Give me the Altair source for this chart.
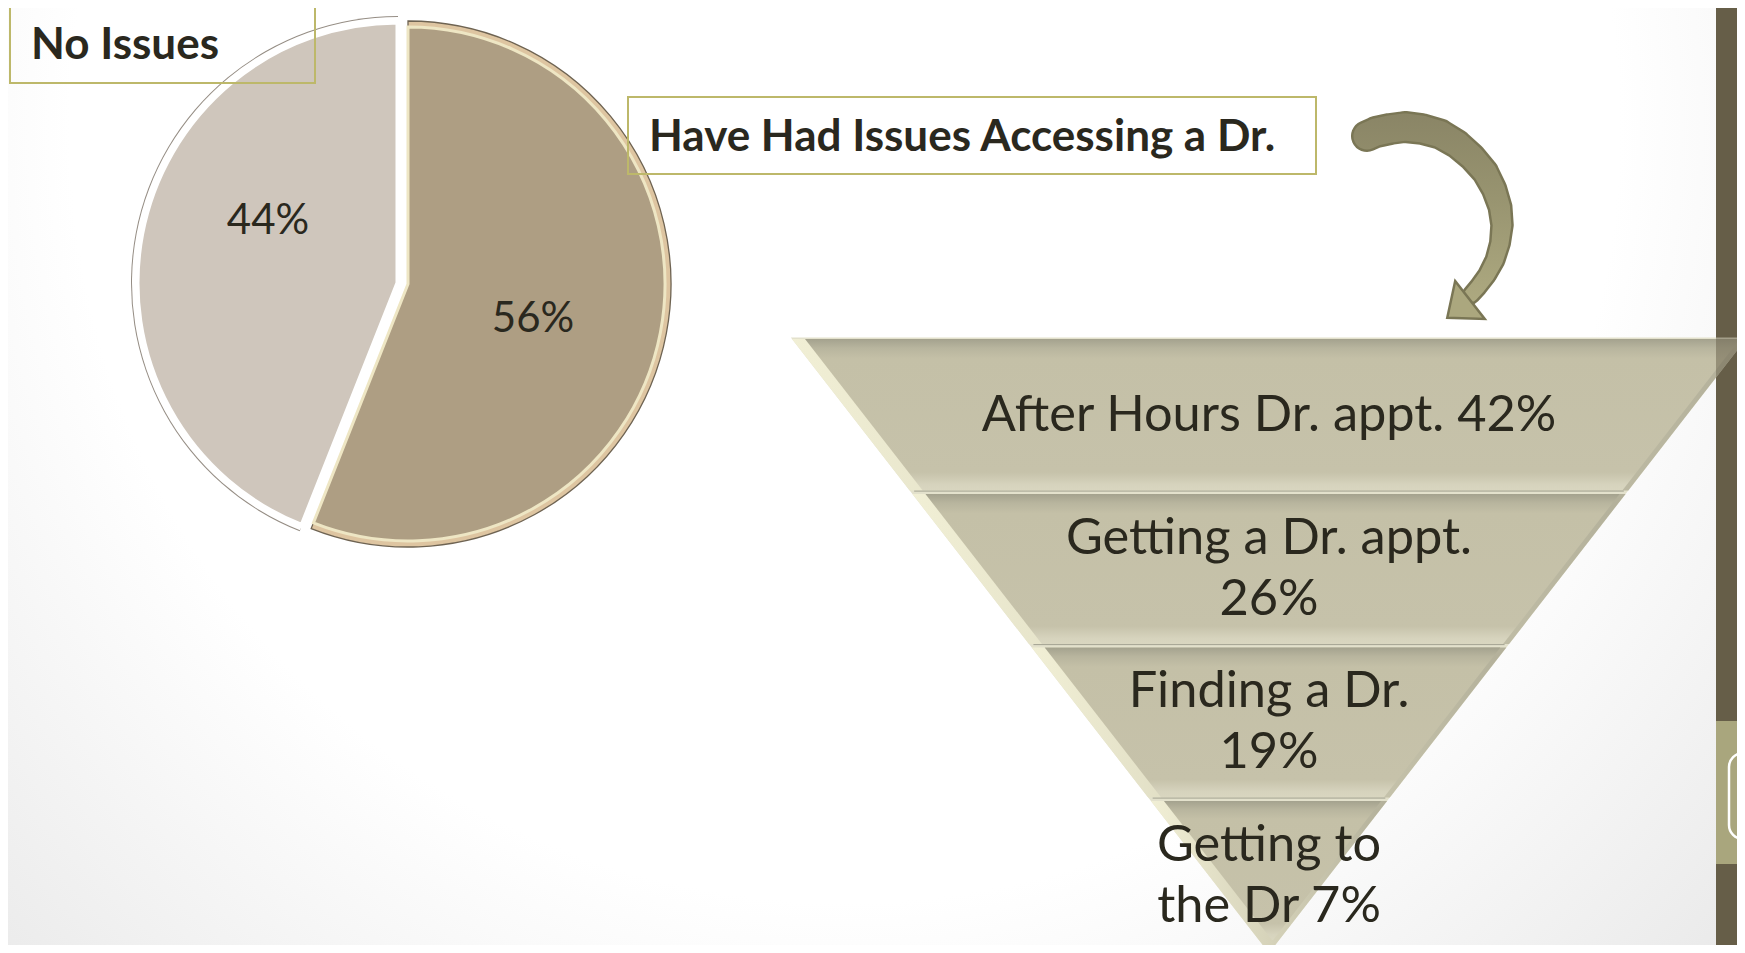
import math
import altair as alt
import pandas as pd

# ---------------- data ----------------
pie_categories = ["Have Had Issues Accessing a Dr.", "No Issues"]
pie_values = [56, 44]

funnel_categories = ["After Hours Dr. appt.", "Getting a Dr. appt.", "Finding a Dr.", "Getting to the Dr"]
funnel_values = [42, 26, 19, 7]
funnel_text_lines = [
    ["After Hours Dr. appt. {}%"],
    ["Getting a Dr. appt.", "{}%"],
    ["Finding a Dr.", "{}%"],
    ["Getting to", "the Dr {}%"],
]

# ---------------- styles ----------------
TEXT = "#2A281E"
BROWN = "#AE9E83"
GREY = "#CFC6BC"
BOX = "#BDB86A"
BAR = "#665E48"
PATCH = "#A9A67D"
FONT = "Lato"

# ---------------- layout (page pixels) ----------------
OFF = 8
W, H = 1729, 937
XS = alt.Scale(domain=[OFF, OFF + W], nice=False, zero=False)
YS = alt.Scale(domain=[OFF, OFF + H], nice=False, zero=False, reverse=True)


def X(f):
    return alt.X(f"{f}:Q", scale=XS, axis=None)


def Y(f):
    return alt.Y(f"{f}:Q", scale=YS, axis=None)


def rect_layer(rows, **mark):
    return alt.Chart(pd.DataFrame(rows)).mark_rect(**mark).encode(
        x=X("x"), x2="x2", y=Y("y"), y2="y2")


layers = []

# background
layers.append(rect_layer(
    [{"x": 0, "x2": 1760, "y": 0, "y2": 960}],
    color=alt.Gradient(gradient="radial",
                       stops=[alt.GradientStop(offset=0, color="#FFFFFF"),
                              alt.GradientStop(offset=0.55, color="#FFFFFF"),
                              alt.GradientStop(offset=1, color="#E0E0E0")],
                       x1=0.48, y1=0.3, r1=0, x2=0.48, y2=0.3, r2=0.8)))

# right side bar
layers.append(rect_layer([{"x": 1716, "x2": 1760, "y": 0, "y2": 960}], color=BAR))
layers.append(rect_layer([{"x": 1716, "x2": 1760, "y": 721, "y2": 864}], color=PATCH))
layers.append(rect_layer([{"x": 1729, "x2": 1790, "y": 753, "y2": 839}],
                         fill="transparent", stroke="white", strokeWidth=2.5, cornerRadius=14))

# ---------------- pie ----------------
cum = 0
pie_rows = []
for cat, v in zip(pie_categories, pie_values):
    pie_rows.append({"category": cat, "value": v, "start": cum, "end": cum + v})
    cum += v
pie_df = pd.DataFrame(pie_rows)
total = float(sum(pie_values))
TH = alt.Scale(domain=[0, total], range=[0, 2 * math.pi], nice=False, zero=False)

CX, CY, R = 408 - OFF, 284 - OFF, 263
EXPLODE = (-10, -1)


def arc(cat, **mark):
    return alt.Chart(pie_df[pie_df.category == cat]).mark_arc(**mark).encode(
        theta=alt.Theta("start:Q", scale=TH), theta2="end:Q")


# grey ("No Issues") slice, exploded
gx, gy = CX + EXPLODE[0], CY + EXPLODE[1]
layers.append(arc(pie_categories[1], x=gx, y=gy, radius=R + 4, fill="#958D84"))
layers.append(arc(pie_categories[1], x=gx, y=gy, radius=R + 3, fill="#FFFFFF"))
layers.append(arc(pie_categories[1], x=gx, y=gy, radius=R - 2, fill=GREY,
                  stroke="#FFFFFF", strokeWidth=5))
# brown ("Have had issues") slice
layers.append(arc(pie_categories[0], x=CX, y=CY, radius=R, fill="#DEC5A1",
                  stroke="#6E6352", strokeWidth=1.3))
layers.append(arc(pie_categories[0], x=CX, y=CY, radius=R - 6, fill=BROWN,
                  stroke="#EEE6C4", strokeWidth=3))

# percentage labels
pct_pos = {pie_categories[0]: (533, 332), pie_categories[1]: (268, 234)}
pct_df = pd.DataFrame([{"x": pct_pos[c][0], "y": pct_pos[c][1], "t": f"{v}%"}
                       for c, v in zip(pie_categories, pie_values)])
layers.append(alt.Chart(pct_df).mark_text(font=FONT, fontSize=42, color=TEXT,
                                          align="center", baseline="alphabetic").encode(
    x=X("x"), y=Y("y"), text="t:N"))

# label boxes
box_pos = {pie_categories[1]: (10, 315, 5, 83, 31, 59),
           pie_categories[0]: (628, 1316, 97, 174, 649, 151)}
box_df = pd.DataFrame([{"x": box_pos[c][0], "x2": box_pos[c][1], "y": box_pos[c][2],
                        "y2": box_pos[c][3], "tx": box_pos[c][4], "ty": box_pos[c][5], "t": c}
                       for c in pie_categories])
layers.append(alt.Chart(box_df).mark_rect(fill="transparent", stroke=BOX, strokeWidth=2).encode(
    x=X("x"), x2="x2", y=Y("y"), y2="y2"))
layers.append(alt.Chart(box_df).mark_text(font=FONT, fontSize=44, fontWeight="bold", color=TEXT,
                                          align="left", baseline="alphabetic").encode(
    x=X("tx"), y=Y("ty"), text="t:N"))

# ---------------- curved arrow (decoration) ----------------
arrow_path = [(1367, 136, 27), (1376, 132, 27), (1390, 129, 27), (1405, 127, 27),
              (1422, 129, 26.5), (1440, 134, 26), (1457, 144, 25), (1472, 157, 24),
              (1485, 172, 23), (1494, 189, 21.5), (1500, 207, 20), (1502, 225, 18.5),
              (1500, 243, 17), (1495, 260, 16), (1487, 275, 15), (1478, 287, 14.5),
              (1471, 295, 14)]
arrow_df = pd.DataFrame([{"i": i, "x": p[0], "y": p[1], "w": p[2], "wo": p[2] + 5}
                         for i, p in enumerate(arrow_path)])
layers.append(alt.Chart(arrow_df).mark_trail(color="#7A7655").encode(
    x=X("x"), y=Y("y"), order="i:Q", size=alt.Size("wo:Q", scale=None, legend=None)))
layers.append(alt.Chart(arrow_df).mark_trail(
    color=alt.Gradient(gradient="linear",
                       stops=[alt.GradientStop(offset=0, color="#8A8566"),
                              alt.GradientStop(offset=0.45, color="#989470"),
                              alt.GradientStop(offset=1, color="#ADA980")],
                       x1=0, y1=0, x2=0, y2=1)).encode(
    x=X("x"), y=Y("y"), order="i:Q", size=alt.Size("w:Q", scale=None, legend=None)))
# arrow head: a triangle symbol pointing along the end direction
head_df = pd.DataFrame([{"x": 1460.5, "y": 307.4}])
HEAD_PATH = "M -1 -0.5 L 1 -0.5 L 0 0.7 Z"
layers.append(alt.Chart(head_df).mark_point(
    shape=HEAD_PATH, size=48 * 48, angle=52, filled=True, fill="#ABA77E",
    stroke="#7A7655", strokeWidth=2.5, opacity=1).encode(x=X("x"), y=Y("y")))

# ---------------- funnel ----------------
FC, FTOP, FAPEX, FHW = 1269, 339, 953, 477
n = len(funnel_values)
bh = (FAPEX - FTOP) / n


def hw(y):
    return FHW * (FAPEX - y) / (FAPEX - FTOP)


under = pd.DataFrame([{"b": 0, "y": FTOP - 1.5, "xl": FC - hw(FTOP - 1.5), "xr": FC + hw(FTOP - 1.5)},
                      {"b": 0, "y": FAPEX, "xl": FC, "xr": FC}])
layers.append(alt.Chart(under).mark_area(orient="horizontal", color="#E3E1CC").encode(
    y=Y("y"), x=X("xl"), x2="xr", detail="b:N"))

outer_rows, inner_rows, sep_rows = [], [], []
for i in range(n):
    yt = FTOP + i * bh + (1.5 if i > 0 else 0)
    yb = FTOP + (i + 1) * bh - (2 if i < n - 1 else 0)
    for y in (yt, yb):
        outer_rows.append({"b": i, "y": y, "xl": FC - hw(y), "xr": FC + hw(y)})
    ybi = yb if i < n - 1 else FAPEX - 13
    for y in (yt, ybi):
        inner_rows.append({"b": i, "y": y, "xl": FC - hw(y) + 13, "xr": FC + hw(y) - 6})
    if i < n - 1:
        ys = yb + 0.6
        sep_rows.append({"b": i, "x": FC - hw(ys) + 4, "x2": FC + hw(ys) - 4, "y": ys})

layers.append(alt.Chart(pd.DataFrame(outer_rows)).mark_area(
    orient="horizontal",
    color=alt.Gradient(gradient="linear",
                       stops=[alt.GradientStop(offset=0, color="#F1EFD5"),
                              alt.GradientStop(offset=0.5, color="#D6D3BA"),
                              alt.GradientStop(offset=1, color="#B3B09A")],
                       x1=0, y1=0, x2=1, y2=0)).encode(
    y=Y("y"), x=X("xl"), x2="xr", detail="b:N"))
layers.append(alt.Chart(pd.DataFrame(inner_rows)).mark_area(
    orient="horizontal",
    color=alt.Gradient(gradient="linear",
                       stops=[alt.GradientStop(offset=0, color="#A4A28E"),
                              alt.GradientStop(offset=0.06, color="#B8B59E"),
                              alt.GradientStop(offset=0.13, color="#C4C0A7"),
                              alt.GradientStop(offset=0.88, color="#C6C2AA"),
                              alt.GradientStop(offset=0.96, color="#D6D3BD"),
                              alt.GradientStop(offset=1, color="#D9D6C0")],
                       x1=0, y1=0, x2=0, y2=1)).encode(
    y=Y("y"), x=X("xl"), x2="xr", detail="b:N"))
# thin grey separator lines between bands
layers.append(alt.Chart(pd.DataFrame(sep_rows)).mark_rule(color="#A3A392", strokeWidth=1).encode(
    x=X("x"), x2="x2", y=Y("y")))

# semi-transparent bar over the funnel corner
layers.append(rect_layer([{"x": 1716, "x2": 1760, "y": 330, "y2": 392}], color=BAR, opacity=0.5))

# funnel labels
LS = 61
ftext = []
for i, (lines, v) in enumerate(zip(funnel_text_lines, funnel_values)):
    yc = FTOP + (i + 0.5) * bh
    k = len(lines)
    for j, ln in enumerate(lines):
        ftext.append({"x": FC, "y": yc + 15 + (j - (k - 1) / 2) * LS, "t": ln.format(v)})
layers.append(alt.Chart(pd.DataFrame(ftext)).mark_text(
    font=FONT, fontSize=50.5, color=TEXT, align="center", baseline="alphabetic").encode(
    x=X("x"), y=Y("y"), text="t:N"))

chart = alt.layer(*layers).properties(
    width=W, height=H, padding=0, autosize="none", background="white"
).configure_view(strokeWidth=0)

chart.save("out.html", embed_options={"renderer": "svg", "actions": False})
